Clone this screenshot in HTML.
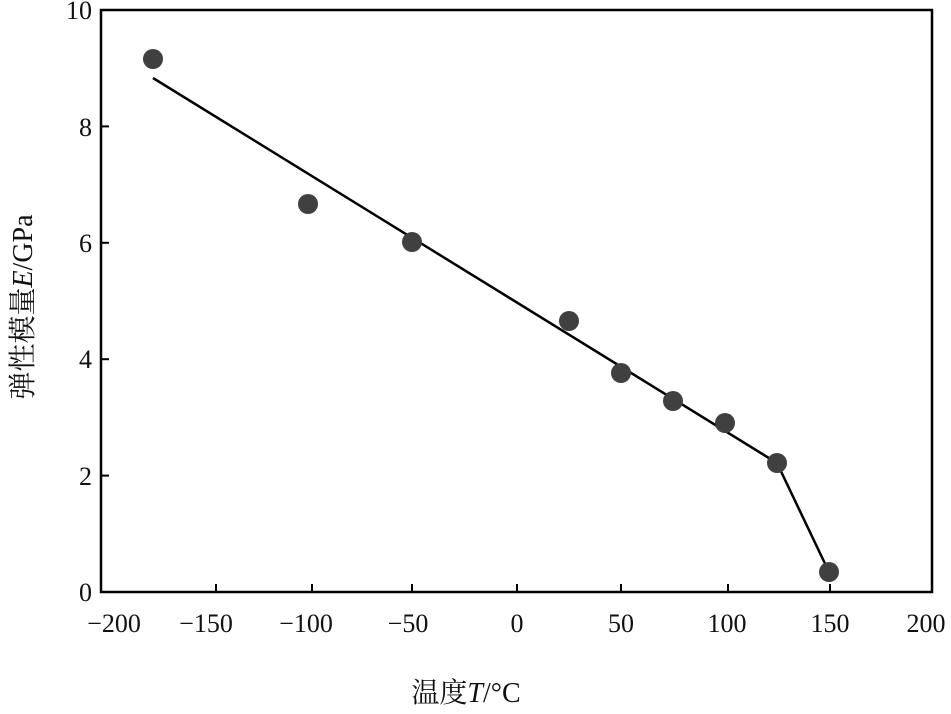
<!DOCTYPE html>
<html><head><meta charset="utf-8"><style>
body{margin:0;background:#fff;}
svg text{font-family:"Liberation Serif","Noto Serif CJK SC",serif;fill:#111;}
</style></head><body>
<svg width="951" height="709" viewBox="0 0 951 709" xmlns="http://www.w3.org/2000/svg">
<rect x="101" y="10" width="831" height="582" fill="none" stroke="#000" stroke-width="2.5"/>
<g stroke="#000" stroke-width="2">
<line x1="216" y1="592" x2="216" y2="584"/><line x1="312" y1="592" x2="312" y2="584"/>
<line x1="412" y1="592" x2="412" y2="584"/><line x1="517" y1="592" x2="517" y2="584"/>
<line x1="621" y1="592" x2="621" y2="584"/><line x1="728" y1="592" x2="728" y2="584"/>
<line x1="830" y1="592" x2="830" y2="584"/>
<line x1="101" y1="475.6" x2="109" y2="475.6"/><line x1="101" y1="359.2" x2="109" y2="359.2"/>
<line x1="101" y1="242.8" x2="109" y2="242.8"/><line x1="101" y1="126.4" x2="109" y2="126.4"/>
</g>
<g font-size="26" text-anchor="middle">
<text x="114" y="632">−200</text><text x="206" y="632">−150</text><text x="306" y="632">−100</text>
<text x="408" y="632">−50</text><text x="517" y="632">0</text><text x="621" y="632">50</text>
<text x="727" y="632">100</text><text x="830" y="632">150</text><text x="926" y="632">200</text>
</g>
<g font-size="26" text-anchor="end">
<text x="92" y="601">0</text><text x="92" y="485">2</text><text x="92" y="368">4</text>
<text x="92" y="252">6</text><text x="92" y="136">8</text><text x="92" y="19">10</text>
</g>
<polyline points="153,78 777,463 829,572" fill="none" stroke="#000" stroke-width="2.5"/>
<g fill="#404040">
<circle cx="153" cy="59" r="10"/><circle cx="308" cy="204" r="10"/><circle cx="412" cy="242" r="10"/>
<circle cx="569" cy="321" r="10"/><circle cx="621" cy="373" r="10"/><circle cx="673" cy="401" r="10"/>
<circle cx="725" cy="423" r="10"/><circle cx="777" cy="463" r="10"/><circle cx="829" cy="572" r="10"/>
</g>
<text x="466" y="702" font-size="28" text-anchor="middle">温度<tspan font-style="italic">T</tspan>/°C</text>
<text transform="translate(32,307) rotate(-90)" font-size="28" text-anchor="middle">弹性模量<tspan font-style="italic">E</tspan>/GPa</text>
</svg>
</body></html>
